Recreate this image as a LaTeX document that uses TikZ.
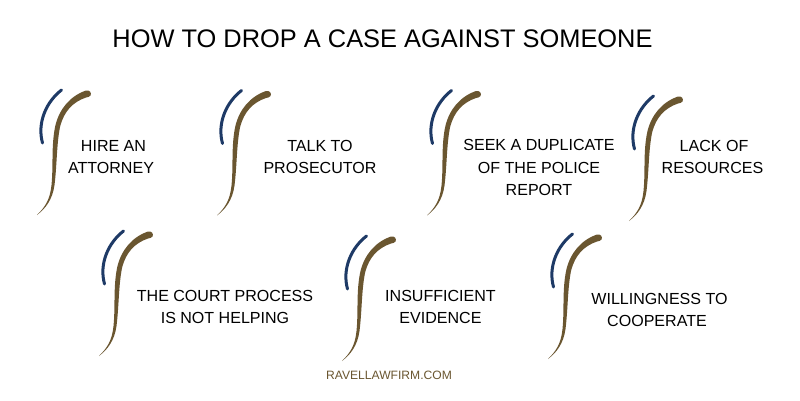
\documentclass[tikz,border=0pt]{standalone}
\usepackage{fontspec}
\setmainfont{Liberation Sans}
\definecolor{swbrown}{HTML}{6A5630}
\definecolor{swblue}{HTML}{1E3A66}
\definecolor{inktext}{HTML}{000000}
\tikzset{
  x=1pt,y=-1pt,
  lbl/.style={align=center,text=inktext,font=\fontsize{16.05}{22.5}\selectfont,inner sep=0pt},
  swoosh/.pic={
    \fill[swbrown] (0,0) .. controls (8,-8) and (13,-15) .. (14.5,-30)
      .. controls (16.5,-50) and (14,-70) .. (18.5,-90)
      .. controls (22.5,-106) and (33,-119) .. (49,-124.5)
      .. controls (52.5,-125.5) and (55,-122) .. (53.5,-119.5)
      .. controls (52.5,-118) and (51,-118) .. (49,-117.5)
      .. controls (36,-113) and (27,-104) .. (23,-88)
      .. controls (19.5,-70) and (20,-50) .. (17.5,-30)
      .. controls (15.5,-15) and (8,-6) .. (0,0) -- cycle;
    \draw[swblue,line width=3pt,line cap=round] (5.5,-72) .. controls (0,-92) and (9,-113) .. (24.5,-125);
  }
}
\begin{document}
\begin{tikzpicture}
\useasboundingbox (0,0) rectangle (800,400);
\fill[white] (0,0) rectangle (800,400);
\node[lbl,font=\fontsize{25.4}{30}\selectfont] (title) at (382.5,39) {HOW TO DROP A CASE AGAINST SOMEONE};
\pic at (37,215) {swoosh};
\pic at (217,215.5) {swoosh};
\pic at (427,215.5) {swoosh};
\pic at (629,221) {swoosh};
\pic at (99,356) {swoosh};
\pic at (342,361) {swoosh};
\pic at (548,359) {swoosh};
\node[lbl] (a) at (111,157) {\hspace*{5pt}HIRE AN\\ATTORNEY};
\node[lbl] (b) at (320,157) {TALK TO\\PROSECUTOR};
\node[lbl] (c) at (539,167.5) {SEEK A DUPLICATE\\OF THE POLICE\\REPORT};
\node[lbl] (d) at (712.5,157) {\hspace*{3pt}LACK OF\\RESOURCES};
\node[lbl] (e) at (225,307) {THE COURT PROCESS\\IS NOT HELPING};
\node[lbl] (f) at (440.5,307) {INSUFFICIENT\\EVIDENCE};
\node[lbl] (g) at (659.5,310) {WILLINGNESS TO\\COOPERATE\hspace*{5pt}};
\node[lbl,text=swbrown,font=\fontsize{12.1}{14}\selectfont] (h) at (389,375) {RAVELLAWFIRM.COM};
\end{tikzpicture}
\end{document}
